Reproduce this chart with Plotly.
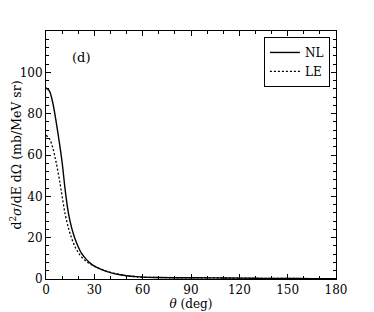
import plotly.graph_objects as go

theta_nl = [0, 2, 4, 6, 8, 10, 12, 14, 16, 18, 20, 22, 25, 28, 30, 35, 40, 45, 50, 55, 60, 70, 80, 90, 100, 110, 120, 135, 150, 165, 180]
nl = [92.5, 91.2, 86.0, 77.5, 67.5, 56.5, 42.5, 31.5, 24.5, 19.5, 15.6, 12.5, 9.5, 7.3, 6.2, 4.4, 3.1, 2.2, 1.6, 1.2, 0.9, 0.7, 0.6, 0.6, 0.55, 0.5, 0.4, 0.3, 0.25, 0.2, 0.2]

theta_le = [0, 2, 4, 6, 8, 10, 12, 14, 16, 18, 20, 22, 25, 28, 30, 35, 40, 45, 50, 55, 60, 70, 80, 90, 100, 110, 120, 135, 150, 165, 180]
le = [69.5, 68.0, 64.0, 57.5, 49.5, 40.0, 31.0, 24.5, 19.5, 15.6, 12.8, 10.7, 8.5, 7.0, 6.2, 4.5, 3.2, 2.3, 1.6, 1.2, 0.9, 0.7, 0.6, 0.6, 0.55, 0.5, 0.4, 0.3, 0.25, 0.2, 0.2]

x_ticks = [0, 30, 60, 90, 120, 150, 180]
y_ticks = [0, 20, 40, 60, 80, 100]

FONT = "DejaVu Serif"

fig = go.Figure()
fig.add_trace(go.Scatter(x=theta_nl, y=nl, mode="lines", name="NL",
                         line=dict(color="black", width=1.4, shape="spline")))
fig.add_trace(go.Scatter(x=theta_le, y=le, mode="lines", name="LE",
                         line=dict(color="black", width=1.3, dash="2px,2px", shape="spline")))

axis_common = dict(showgrid=False, zeroline=False, showline=True, linecolor="black",
                   linewidth=1, mirror="allticks", ticks="inside", ticklen=5,
                   tickcolor="black", tickwidth=1, automargin=False,
                   tickfont=dict(family=FONT, size=12, color="black"))

fig.update_xaxes(range=[0, 180], tickvals=x_ticks,
                 minor=dict(dtick=10, ticks="inside", ticklen=3, tickcolor="black"),
                 title=dict(text="<i>θ</i> (deg)", font=dict(family=FONT, size=12, color="black"), standoff=0),
                 **axis_common)
fig.update_yaxes(range=[0, 120], tickvals=y_ticks,
                 minor=dict(dtick=4, ticks="inside", ticklen=3, tickcolor="black"),
                 title=dict(text="d<sup>2</sup><i>σ</i>/dE dΩ (mb/MeV sr)", font=dict(family=FONT, size=12.5, color="black"), standoff=5),
                 **axis_common)

fig.add_annotation(x=22, y=107, text="(d)", showarrow=False,
                   font=dict(family=FONT, size=13, color="black"))

fig.update_layout(
    width=366, height=304,
    margin=dict(l=38, r=38, t=23, b=33, autoexpand=False),
    paper_bgcolor="white", plot_bgcolor="white",
    showlegend=True,
    legend=dict(x=0.979, y=0.976, xanchor="right", yanchor="top",
                bgcolor="white", bordercolor="black", borderwidth=1,
                font=dict(family=FONT, size=12, color="black"),
                itemwidth=30, tracegroupgap=0),
)

fig.write_html("out.html")
